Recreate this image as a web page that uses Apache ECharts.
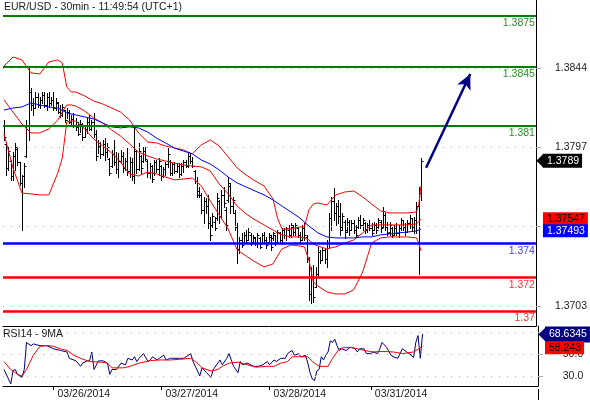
<!DOCTYPE html>
<html><head><meta charset="utf-8">
<script src="https://cdn.jsdelivr.net/npm/echarts@6/dist/echarts.min.js"></script>
<style>html,body{margin:0;padding:0;background:#fff}#c{width:590px;height:400px}</style>
</head><body><div id="c"></div>
<script>
// ---- price bars (30 min), index 0 = first bar on the chart ----
const openP = [1.3810,1.3799,1.3785,1.3789,1.3780,1.3792,1.3796,1.3788,1.3776,1.3780,
1.3792,1.3810,1.3830,1.3822,1.3820,1.3827,1.3822,1.3825,1.3828,1.3822,
1.3827,1.3823,1.3825,1.3820,1.3823,1.3818,1.3816,1.3819,1.3813,1.3818,
1.3812,1.3814,1.3810,1.3809,1.3805,1.3811,1.3803,1.3808,1.3812,1.3808,
1.3812,1.3805,1.3792,1.3798,1.3793,1.3799,1.3794,1.3790,1.3786,1.3793,
1.3788,1.3784,1.3789,1.3792,1.3785,1.3789,1.3783,1.3788,1.3780,1.3795,
1.3784,1.3792,1.3789,1.3795,1.3789,1.3782,1.3786,1.3782,1.3788,1.3784,
1.3786,1.3780,1.3784,1.3787,1.3789,1.3782,1.3787,1.3783,1.3786,1.3781,
1.3786,1.3788,1.3786,1.3792,1.3789,1.3783,1.3777,1.3771,1.3769,1.3760,
1.3765,1.3762,1.3752,1.3751,1.3753,1.3755,1.3765,1.3756,1.3769,1.3760,
1.3766,1.3774,1.3762,1.3758,1.3750,1.3737,1.3742,1.3740,1.3745,1.3742,
1.3745,1.3741,1.3743,1.3740,1.3743,1.3740,1.3745,1.3742,1.3741,1.3744,
1.3743,1.3745,1.3741,1.3746,1.3742,1.3748,1.3745,1.3748,1.3745,1.3750,
1.3747,1.3749,1.3745,1.3742,1.3749,1.3744,1.3731,1.3710,1.3720,1.3714,
1.3722,1.3735,1.3730,1.3736,1.3731,1.3740,1.3755,1.3765,1.3758,1.3762,
1.3756,1.3750,1.3753,1.3748,1.3753,1.3748,1.3752,1.3748,1.3750,1.3754,
1.3751,1.3752,1.3748,1.3751,1.3749,1.3748,1.3751,1.3750,1.3753,1.3750,
1.3757,1.3750,1.3747,1.3749,1.3745,1.3749,1.3746,1.3749,1.3754,1.3750,
1.3747,1.3752,1.3755,1.3750,1.3754,1.3762,1.3770];
const highP = [1.38132,1.37996,1.37972,1.37895,1.37942,1.37996,1.37966,1.37883,1.37806,1.37877,
1.38132,1.38446,1.38322,1.38262,1.38298,1.38292,1.38268,1.38298,1.38298,1.38292,
1.38298,1.38268,1.38298,1.38262,1.38239,1.38221,1.38227,1.38191,1.38203,1.38191,
1.38162,1.38173,1.38144,1.38120,1.38132,1.38114,1.38102,1.38144,1.38162,1.38132,
1.38173,1.38073,1.38013,1.38001,1.38013,1.38025,1.37996,1.37907,1.37954,1.38013,
1.37942,1.37936,1.37954,1.37942,1.37907,1.37966,1.37913,1.37907,1.38085,1.37954,
1.37996,1.37925,1.37972,1.37972,1.37895,1.37877,1.37865,1.37895,1.37895,1.37907,
1.37865,1.37854,1.37883,1.37966,1.37895,1.37883,1.37883,1.37877,1.37877,1.37877,
1.37895,1.37895,1.37936,1.37936,1.37913,1.37836,1.37794,1.37735,1.37699,1.37676,
1.37670,1.37688,1.37557,1.37581,1.37557,1.37699,1.37658,1.37717,1.37735,1.37617,
1.37794,1.37759,1.37676,1.37599,1.37522,1.37439,1.37462,1.37468,1.37480,1.37492,
1.37462,1.37451,1.37439,1.37462,1.37439,1.37462,1.37468,1.37439,1.37462,1.37451,
1.37468,1.37451,1.37480,1.37468,1.37492,1.37492,1.37498,1.37510,1.37522,1.37510,
1.37522,1.37498,1.37468,1.37510,1.37522,1.37451,1.37320,1.37261,1.37273,1.37261,
1.37380,1.37362,1.37380,1.37374,1.37421,1.37581,1.37676,1.37729,1.37640,1.37658,
1.37640,1.37581,1.37539,1.37551,1.37539,1.37539,1.37539,1.37510,1.37557,1.37569,
1.37551,1.37528,1.37522,1.37539,1.37522,1.37528,1.37522,1.37551,1.37539,1.37617,
1.37581,1.37528,1.37528,1.37498,1.37510,1.37522,1.37510,1.37551,1.37539,1.37522,
1.37539,1.37569,1.37551,1.37557,1.37646,1.37735,1.37907];
const lowP = [1.38013,1.37806,1.37836,1.37776,1.37776,1.37836,1.37865,1.37747,1.37480,1.37735,
1.37913,1.38013,1.38191,1.38162,1.38203,1.38209,1.38203,1.38233,1.38209,1.38191,
1.38209,1.38221,1.38191,1.38191,1.38173,1.38150,1.38156,1.38120,1.38144,1.38114,
1.38102,1.38091,1.38073,1.38043,1.38061,1.38013,1.38031,1.38055,1.38073,1.38073,
1.38031,1.37895,1.37936,1.37907,1.37925,1.37895,1.37913,1.37806,1.37854,1.37865,
1.37818,1.37794,1.37877,1.37824,1.37836,1.37806,1.37794,1.37776,1.37759,1.37818,
1.37836,1.37818,1.37883,1.37895,1.37794,1.37788,1.37765,1.37806,1.37824,1.37806,
1.37776,1.37794,1.37806,1.37854,1.37806,1.37806,1.37818,1.37824,1.37794,1.37806,
1.37824,1.37854,1.37854,1.37877,1.37854,1.37759,1.37676,1.37676,1.37581,1.37522,
1.37581,1.37492,1.37421,1.37498,1.37480,1.37539,1.37522,1.37557,1.37617,1.37480,
1.37646,1.37581,1.37581,1.37480,1.37285,1.37344,1.37380,1.37403,1.37403,1.37421,
1.37391,1.37403,1.37391,1.37380,1.37374,1.37403,1.37409,1.37374,1.37409,1.37362,
1.37421,1.37391,1.37403,1.37403,1.37409,1.37433,1.37421,1.37439,1.37439,1.37451,
1.37451,1.37439,1.37409,1.37421,1.37421,1.37291,1.37065,1.37048,1.37054,1.37143,
1.37202,1.37285,1.37302,1.37285,1.37261,1.37380,1.37480,1.37539,1.37510,1.37522,
1.37451,1.37480,1.37433,1.37468,1.37451,1.37480,1.37462,1.37439,1.37492,1.37492,
1.37480,1.37462,1.37468,1.37480,1.37451,1.37480,1.37462,1.37492,1.37468,1.37498,
1.37480,1.37451,1.37451,1.37439,1.37451,1.37451,1.37439,1.37480,1.37480,1.37451,
1.37468,1.37492,1.37480,1.37462,1.37462,1.37220,1.37658];
const closeP = [1.3803,1.3785,1.3795,1.3780,1.3792,1.3797,1.3788,1.3776,1.3780,1.3786,
1.3810,1.3830,1.3822,1.3820,1.3827,1.3822,1.3825,1.3828,1.3822,1.3827,
1.3823,1.3825,1.3820,1.3824,1.3818,1.3816,1.3821,1.3813,1.3818,1.3812,
1.3814,1.3810,1.3809,1.3805,1.3811,1.3803,1.3808,1.3812,1.3808,1.3812,
1.3805,1.3792,1.3798,1.3793,1.3799,1.3794,1.3797,1.3782,1.3793,1.3788,
1.3784,1.3789,1.3792,1.3785,1.3789,1.3783,1.3788,1.3780,1.3795,1.3784,
1.3795,1.3785,1.3795,1.3790,1.3782,1.3786,1.3778,1.3788,1.3784,1.3789,
1.3780,1.3784,1.3787,1.3793,1.3782,1.3787,1.3783,1.3786,1.3781,1.3786,
1.3788,1.3786,1.3792,1.3789,1.3786,1.3777,1.3769,1.3769,1.3760,1.3765,
1.3762,1.3752,1.3745,1.3756,1.3749,1.3767,1.3756,1.3769,1.3764,1.3751,
1.3776,1.3762,1.3766,1.3750,1.3737,1.3742,1.3739,1.3745,1.3741,1.3747,
1.3740,1.3744,1.3740,1.3745,1.3738,1.3745,1.3742,1.3739,1.3745,1.3738,
1.3746,1.3741,1.3747,1.3742,1.3748,1.3745,1.3749,1.3745,1.3751,1.3747,
1.3751,1.3745,1.3742,1.3749,1.3745,1.3731,1.3710,1.3720,1.3708,1.3722,
1.3735,1.3730,1.3736,1.3731,1.3740,1.3755,1.3765,1.3758,1.3762,1.3756,
1.3748,1.3756,1.3747,1.3753,1.3748,1.3752,1.3748,1.3745,1.3754,1.3751,
1.3754,1.3748,1.3751,1.3749,1.3746,1.3751,1.3748,1.3754,1.3749,1.3759,
1.3750,1.3746,1.3751,1.3745,1.3749,1.3746,1.3749,1.3754,1.3750,1.3747,
1.3752,1.3755,1.3750,1.3754,1.3762,1.3770,1.3789];

// ---- Bollinger bands (red) and moving average (blue), read at bar indices ----
const bbIdx = [0,4,8,12,16,20,24,26,28,30,32,36,40,44,48,52,56,60,64,68,72,76,80,84,88,92,96,100,104,108,112,116,120,122,124,128,132,134,136,138,140,144,148,152,156,160,164,168,172,176,180,184,185,186];
const bbUpper = [1.38452,1.38505,1.38488,1.38411,1.38405,1.38476,1.38488,1.38470,1.38328,1.38298,1.38298,1.38274,1.38245,1.38227,1.38203,1.38179,1.38132,1.38055,1.38002,1.37996,1.37978,1.37966,1.37954,1.37931,1.37984,1.38014,1.37978,1.37913,1.37848,1.37806,1.37771,1.37741,1.37664,1.37551,1.37486,1.37486,1.37498,1.37498,1.37599,1.37634,1.37640,1.37628,1.37688,1.37705,1.37711,1.37676,1.37634,1.37593,1.37581,1.37581,1.37581,1.37587,1.37628,1.37741];
const bbMiddle = [1.38251,1.38179,1.38108,1.38055,1.38055,1.38079,1.38132,1.38179,1.38221,1.38221,1.38215,1.38185,1.38144,1.38114,1.38073,1.38037,1.37990,1.37942,1.37919,1.37901,1.37889,1.37877,1.37865,1.37859,1.37854,1.37830,1.37753,1.37694,1.37622,1.37575,1.37540,1.37510,1.37480,1.37463,1.37451,1.37439,1.37439,1.37433,1.37421,1.37397,1.37385,1.37368,1.37380,1.37403,1.37421,1.37463,1.37510,1.37510,1.37510,1.37510,1.37510,1.37516,1.37528,1.37545];
const bbLower = [1.38049,1.37848,1.37699,1.37694,1.37688,1.37688,1.37818,1.37907,1.38120,1.38126,1.38126,1.38079,1.38019,1.37978,1.37937,1.37883,1.37812,1.37800,1.37824,1.37812,1.37794,1.37777,1.37782,1.37788,1.37741,1.37652,1.37569,1.37486,1.37362,1.37326,1.37291,1.37261,1.37279,1.37326,1.37368,1.37391,1.37385,1.37380,1.37303,1.37172,1.37148,1.37113,1.37101,1.37101,1.37125,1.37231,1.37403,1.37433,1.37439,1.37439,1.37439,1.37433,1.37403,1.37356];
const maIdx = [0,4,8,12,16,20,24,28,32,36,40,44,48,52,56,60,64,68,72,76,80,84,88,92,96,100,104,108,112,116,120,124,128,132,136,140,144,148,152,156,160,164,168,172,176,180,184,186];
const maLine = [1.38191,1.38203,1.38209,1.38233,1.38221,1.38209,1.38203,1.38174,1.38162,1.38150,1.38138,1.38114,1.38091,1.38085,1.38091,1.38085,1.38061,1.38025,1.37996,1.37966,1.37948,1.37931,1.37895,1.37871,1.37836,1.37794,1.37759,1.37735,1.37711,1.37688,1.37658,1.37622,1.37587,1.37551,1.37504,1.37463,1.37439,1.37433,1.37433,1.37433,1.37439,1.37439,1.37451,1.37457,1.37463,1.37468,1.37474,1.37486];

// ---- RSI14 and its 9MA ----
const rsiIdx = [0,3,4,5,6,8,9,10,12,13,16,19,22,25,28,29,32,34,35,37,38,39,40,42,44,46,47,48,50,52,54,55,57,58,59,60,62,64,65,66,68,69,71,72,74,75,78,80,83,84,85,86,87,88,90,92,93,95,96,97,99,100,102,104,105,106,108,111,113,115,117,118,120,121,123,125,126,127,128,129,131,132,134,135,136,137,138,139,140,141,142,143,144,145,146,147,148,149,150,152,154,156,157,158,160,161,163,164,166,167,168,170,172,173,175,176,177,179,180,181,182,183,184,185,186];
const rsiVal = [36.1,23,35,36.1,31.7,28.9,36.1,60.8,57.8,59.5,57.8,57.8,55,53.5,52.1,46.3,44,39,42,44,44,52.1,36.1,44,44,41.9,31.7,36.1,36.1,41.9,40.4,46.3,44.8,47.7,43.4,46.3,50.6,43.4,44.8,47.7,44.8,46.3,49.1,44.8,46.3,46.3,46.3,46.3,50.6,43.4,39,34.7,30.3,37.6,33.2,28.9,36.1,41.9,44.8,40.4,46.3,50.6,39,33.2,43.4,40.4,42,39,39,40.4,43.4,40.4,44.8,43.4,46.3,46.3,50.6,52.1,53.5,49.1,50.6,47.7,49.1,41.9,33.2,27.4,26,34.7,36.1,47.7,44.8,49.1,52.1,62.2,60.8,63.7,57.8,53.5,55,53.5,56.4,55,52.1,55,55,50.6,50.6,52.1,50.6,55,60.8,56.4,49.1,47.7,46.3,50.6,55,52.1,50.6,49.1,46.8,60.8,67.1,46.3,68.6345];
const rsiMaIdx = [0,3,6,8,10,13,16,19,22,25,28,31,34,38,43,46,48,53,56,60,65,69,74,78,83,86,88,92,95,97,100,104,108,112,117,120,123,126,128,131,135,137,140,144,146,149,152,155,160,164,168,173,177,182,186];
const rsiMaVal = [43.4,36.1,31.7,30,36.1,49.1,57.3,58,57.3,55,53.5,49.1,46.3,43.4,42.8,41.9,37.6,37.6,39,41.9,44.2,44.8,44.8,45.4,46.3,41.9,37.6,34.7,36.1,39,41.9,42.8,40.4,38.2,39,39,41.9,43.4,47.7,47.7,47.7,43.4,39,39,46.3,55,56.4,56,53.5,52.1,52.6,52.1,50.6,52.1,57];

// ---- levels, ticks, labels ----
const levelValues = [1.3875, 1.3845, 1.381, 1.374, 1.372, 1.37];
const levelLabels = ['1.3875', '1.3845', '1.381', '1.374', '1.372', '1.37'];
const levelColors = ['#008000', '#008000', '#008000', '#0000ff', '#ff0000', '#ff0000'];
const levelWidths = [2, 2, 2, 2.5, 2.5, 2.5];
const levelTextColors = ['#2a8f2a', '#2a8f2a', '#2a8f2a', '#3b3bff', '#ff3030', '#ff3030'];
const priceTicks = [1.3703, 1.3750, 1.3797, 1.3844];
const rsiTicks = [30, 50, 70];
const dateTicks = [22, 70, 118, 163];
const dateLabels = ['03/26/2014', '03/27/2014', '03/28/2014', '03/31/2014'];
const lastPrice = 1.3789, bbMidLast = 1.37547, maLast = 1.37493;
const rsiLast = 68.6345, rsiMaLast = 58.243;
const arrowFrom = [188.3, 1.37849], arrowTo = [208, 1.38404];

const X_MIN = -0.45, X_MAX = 237.3;
const FONT = 'Liberation Sans';

const bars = highP.map((h, i) => [i, openP[i], h, lowP[i], closeP[i]]);
const pairs = (idx, val) => idx.map((x, k) => [x, val[k]]);

function renderOHLC(params, api) {
  const i = api.value(0);
  const pH = api.coord([i, api.value(2)]);
  const pL = api.coord([i, api.value(3)]);
  const pO = api.coord([i, api.value(1)]);
  const pC = api.coord([i, api.value(4)]);
  const x = Math.round(pH[0]) + 0.5;
  const st = { stroke: '#000', lineWidth: 1 };
  const yo = Math.round(pO[1]) + 0.5, yc = Math.round(pC[1]) + 0.5;
  return { type: 'group', children: [
    { type: 'line', shape: { x1: x, y1: Math.round(pH[1]), x2: x, y2: Math.round(pL[1]) + 1 }, style: st },
    { type: 'line', shape: { x1: x - 2, y1: yo, x2: x, y2: yo }, style: st },
    { type: 'line', shape: { x1: x, y1: yc, x2: x + 2, y2: yc }, style: st }
  ]};
}

function tag(value, text, bg, fg, pad) {
  return { yAxis: value, lineStyle: { color: 'rgba(0,0,0,0)', width: 0 },
    label: { show: true, position: 'end', distance: 7, formatter: text, backgroundColor: bg, color: fg,
      fontFamily: FONT, fontSize: 10.5, lineHeight: 11, padding: pad || [1, 3, 1, 4] } };
}
const dotted = { color: '#b0b0b0', width: 1, type: [1, 7] };
const axisLineBlack = { show: true, onZero: false, lineStyle: { color: '#000', width: 1 } };

const chart = echarts.init(document.getElementById('c'), null, { renderer: 'canvas' });
chart.setOption({
  animation: false,
  backgroundColor: '#fff',
  textStyle: { fontFamily: FONT },
  title: [
    { text: 'EUR/USD - 30min - 11:49:54 (UTC+1)', left: 4, top: 2, padding: 0,
      textStyle: { fontSize: 10.5, fontWeight: 'normal', color: '#1a1a1a', fontFamily: FONT } },
    { text: 'RSI14 - 9MA', left: 3, top: 329, padding: 0,
      textStyle: { fontSize: 10.5, fontWeight: 'normal', color: '#1a1a1a', fontFamily: FONT } }
  ],
  grid: [
    { left: 3, right: 52, top: 0, height: 326 },
    { left: 3, right: 52, top: 326, height: 63 }
  ],
  xAxis: [
    { type: 'value', gridIndex: 0, min: X_MIN, max: X_MAX, axisLine: axisLineBlack,
      axisTick: { show: false }, axisLabel: { show: false }, splitLine: { show: false } },
    { type: 'value', gridIndex: 1, min: X_MIN, max: X_MAX, axisLine: axisLineBlack,
      axisTick: { show: true, customValues: dateTicks, length: 4, lineStyle: { color: '#000' } },
      axisLabel: { show: true, customValues: dateTicks, align: 'left', margin: 3, padding: [0, 0, 0, 4],
        fontSize: 10.5, color: '#1a1a1a', fontFamily: FONT,
        formatter: v => { const k = dateTicks.findIndex(t => Math.abs(t - v) < 0.5); return k >= 0 ? dateLabels[k] : ''; } },
      splitLine: { show: false } }
  ],
  yAxis: [
    { type: 'value', gridIndex: 0, position: 'right', min: 1.36911, max: 1.38843, axisLine: axisLineBlack,
      axisTick: { show: true, customValues: priceTicks, length: 5, lineStyle: { color: '#aaa' } },
      axisLabel: { show: true, customValues: priceTicks, align: 'center', margin: 35, fontSize: 10.5,
        color: '#1a1a1a', fontFamily: FONT, formatter: v => v.toFixed(4) },
      splitLine: { show: false } },
    { type: 'value', gridIndex: 1, position: 'right', min: 21.04, max: 75.8, axisLine: axisLineBlack,
      axisTick: { show: true, customValues: rsiTicks, length: 5, lineStyle: { color: '#aaa' } },
      axisLabel: { show: true, customValues: rsiTicks, align: 'center', margin: 35, fontSize: 10.5,
        color: '#1a1a1a', fontFamily: FONT, formatter: v => v.toFixed(1) },
      splitLine: { show: false } }
  ],
  series: [
    { type: 'line', xAxisIndex: 0, yAxisIndex: 0, data: [], z: 1, silent: true,
      markLine: { silent: true, symbol: 'none', precision: 6, label: { show: false },
        data: priceTicks.map(v => ({ yAxis: v, lineStyle: dotted })) } },
    { type: 'custom', name: 'EURUSD', xAxisIndex: 0, yAxisIndex: 0, z: 2, silent: true,
      renderItem: renderOHLC, encode: { x: 0, y: [1, 2, 3, 4] }, data: bars, clip: true },
    { type: 'line', name: 'BB upper', xAxisIndex: 0, yAxisIndex: 0, z: 3, silent: true, showSymbol: false,
      data: pairs(bbIdx, bbUpper), lineStyle: { color: '#ff0000', width: 1 } },
    { type: 'line', name: 'BB middle', xAxisIndex: 0, yAxisIndex: 0, z: 3, silent: true, showSymbol: false,
      data: pairs(bbIdx, bbMiddle), lineStyle: { color: '#ff0000', width: 1 } },
    { type: 'line', name: 'BB lower', xAxisIndex: 0, yAxisIndex: 0, z: 3, silent: true, showSymbol: false,
      data: pairs(bbIdx, bbLower), lineStyle: { color: '#ff0000', width: 1 } },
    { type: 'line', name: 'MA', xAxisIndex: 0, yAxisIndex: 0, z: 3, silent: true, showSymbol: false,
      data: pairs(maIdx, maLine), lineStyle: { color: '#0000ff', width: 1 } },
    { type: 'line', name: 'levels', xAxisIndex: 0, yAxisIndex: 0, z: 4, silent: true, data: [],
      markLine: { silent: true, symbol: 'none', precision: 6,
        data: levelValues.map((v, k) => ({ yAxis: v,
          lineStyle: { color: levelColors[k], width: levelWidths[k], type: 'solid' },
          label: { show: true, position: 'insideEndBottom', distance: [1, 2], formatter: levelLabels[k],
            color: levelTextColors[k], fontSize: 10.5, fontFamily: FONT } })) } },
    { type: 'line', name: 'arrow', xAxisIndex: 0, yAxisIndex: 0, z: 5, silent: true, data: [],
      markLine: { silent: true, symbol: ['none', 'arrow'], symbolSize: [11, 15], precision: 6,
        lineStyle: { color: '#000080', width: 2.5, type: 'solid' }, label: { show: false },
        data: [[{ coord: arrowFrom }, { coord: arrowTo }]] } },
    { type: 'line', name: 'tags', xAxisIndex: 0, yAxisIndex: 0, z: 6, silent: true, data: [],
      markLine: { silent: true, symbol: 'none', precision: 6,
        data: [ tag(lastPrice, lastPrice.toFixed(4), '#000', '#fff', [2, 3, 1, 4]),
                tag(bbMidLast, bbMidLast.toFixed(5), '#ff0000', '#000'),
                tag(maLast - 0.00018, maLast.toFixed(5), '#0000ff', '#fff') ] },
      markPoint: { silent: true, symbol: 'triangle', symbolSize: [14, 7], symbolRotate: 90, symbolOffset: [4, 0],
        itemStyle: { color: '#000' }, label: { show: false },
        data: [{ coord: [X_MAX, lastPrice] }] } },
    { type: 'line', xAxisIndex: 1, yAxisIndex: 1, data: [], z: 1, silent: true,
      markLine: { silent: true, symbol: 'none', precision: 4, label: { show: false },
        data: rsiTicks.map(v => ({ yAxis: v, lineStyle: dotted })) } },
    { type: 'line', name: 'RSI', xAxisIndex: 1, yAxisIndex: 1, z: 3, silent: true, showSymbol: false,
      data: pairs(rsiIdx, rsiVal), lineStyle: { color: '#000080', width: 1 } },
    { type: 'line', name: 'RSI 9MA', xAxisIndex: 1, yAxisIndex: 1, z: 3, silent: true, showSymbol: false,
      data: pairs(rsiMaIdx, rsiMaVal), lineStyle: { color: '#ff0000', width: 1 } },
    { type: 'line', name: 'rsitags', xAxisIndex: 1, yAxisIndex: 1, z: 6, silent: true, data: [],
      markLine: { silent: true, symbol: 'none', precision: 6,
        data: [ tag(rsiLast - 0.6, rsiLast.toFixed(4), '#000080', '#fff', [3, 3, 2, 4]),
                tag(rsiMaLast - 2.2, rsiMaLast.toFixed(3), '#ff0000', '#000') ] },
      markPoint: { silent: true, symbol: 'triangle', symbolSize: [14, 7], symbolRotate: 90, symbolOffset: [4, 0],
        itemStyle: { color: '#000080' }, label: { show: false },
        data: [{ coord: [X_MAX, rsiLast - 0.6] }] } }
  ],
  graphic: [
    { type: 'line', shape: { x1: 538.5, y1: 389, x2: 538.5, y2: 400 }, style: { stroke: '#000', lineWidth: 1 }, silent: true }
  ]
});
</script>
</body></html>
